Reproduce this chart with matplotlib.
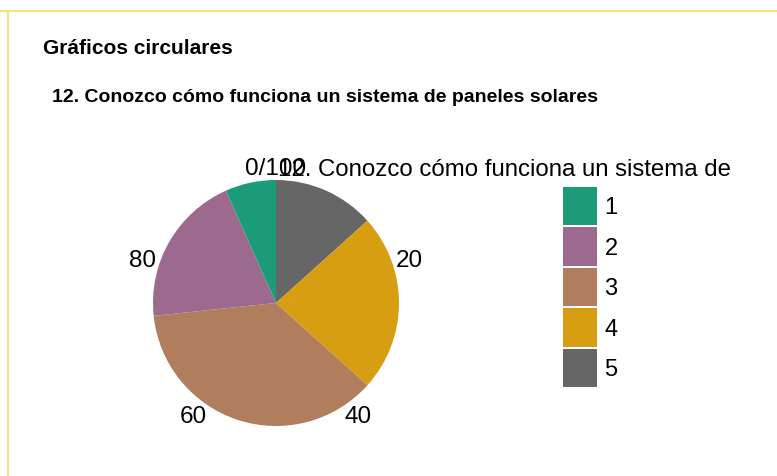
import matplotlib
matplotlib.use("Agg")
import matplotlib.pyplot as plt
from matplotlib.patches import Patch
import numpy as np

plt.rcParams['font.family'] = ['Liberation Sans', 'DejaVu Sans']

# datos (respuestas por categoría)
categorias = ["1", "2", "3", "4", "5"]
valores = [2, 6, 11, 7, 4]
colores = ["#1b9b78", "#9c6a8e", "#b07d5d", "#d89e12", "#666666"]
ticks = [0, 20, 40, 60, 80]
tick_labels = ["0/100", "20", "40", "60", "80"]

W, H = 777, 477
fig = plt.figure(figsize=(W / 100, H / 100), dpi=100)

# marco amarillo
fig.add_artist(plt.Line2D([0, 1], [1 - 12 / H, 1 - 12 / H], color="#f3e38c", lw=1.5))
fig.add_artist(plt.Line2D([8 / W, 8 / W], [0, 1 - 12 / H], color="#f3e38c", lw=1.5))

fig.text(43 / W, 1 - 49 / H, "Gráficos circulares", fontsize=15, fontweight="bold", va="center")
fig.text(52 / W, 1 - 98 / H, "12. Conozco cómo funciona un sistema de paneles solares",
         fontsize=14, fontweight="bold", va="center")

# pastel
cx, cy, r = 276, 304, 123
half = 150
ax = fig.add_axes([(cx - half) / W, (H - cy - half) / H, 2 * half / W, 2 * half / H])
lim = half / r
orden = list(range(len(valores)))[::-1]
wedges, _ = ax.pie([valores[i] for i in orden], colors=[colores[i] for i in orden],
                   startangle=90, counterclock=False, radius=1,
                   wedgeprops=dict(linewidth=0))
ax.set_xlim(-lim, lim)
ax.set_ylim(-lim, lim)
ax.set_aspect("equal")
ax.axis("off")

for t, lab in zip(ticks, tick_labels):
    ang = np.deg2rad(90 - t * 3.6)
    rr = 1.1 if t == 0 else 1.14
    ax.text(rr * np.cos(ang), rr * np.sin(ang), lab, ha="center", va="center", fontsize=17.5)

fig.text(278 / W, 1 - 170 / H, "12. Conozco cómo funciona un sistema de", fontsize=17.3, va="center")

handles = [Patch(facecolor=c, edgecolor="none") for c in colores]
fig.legend(handles, categorias, loc="upper left", bbox_to_anchor=(559 / W, 1 - 184 / H),
           frameon=False, fontsize=17, handlelength=1.48, handleheight=2.14,
           labelspacing=0.08, handletextpad=0.3, borderpad=0.15, borderaxespad=0)

fig.savefig("out.png", dpi=100)
